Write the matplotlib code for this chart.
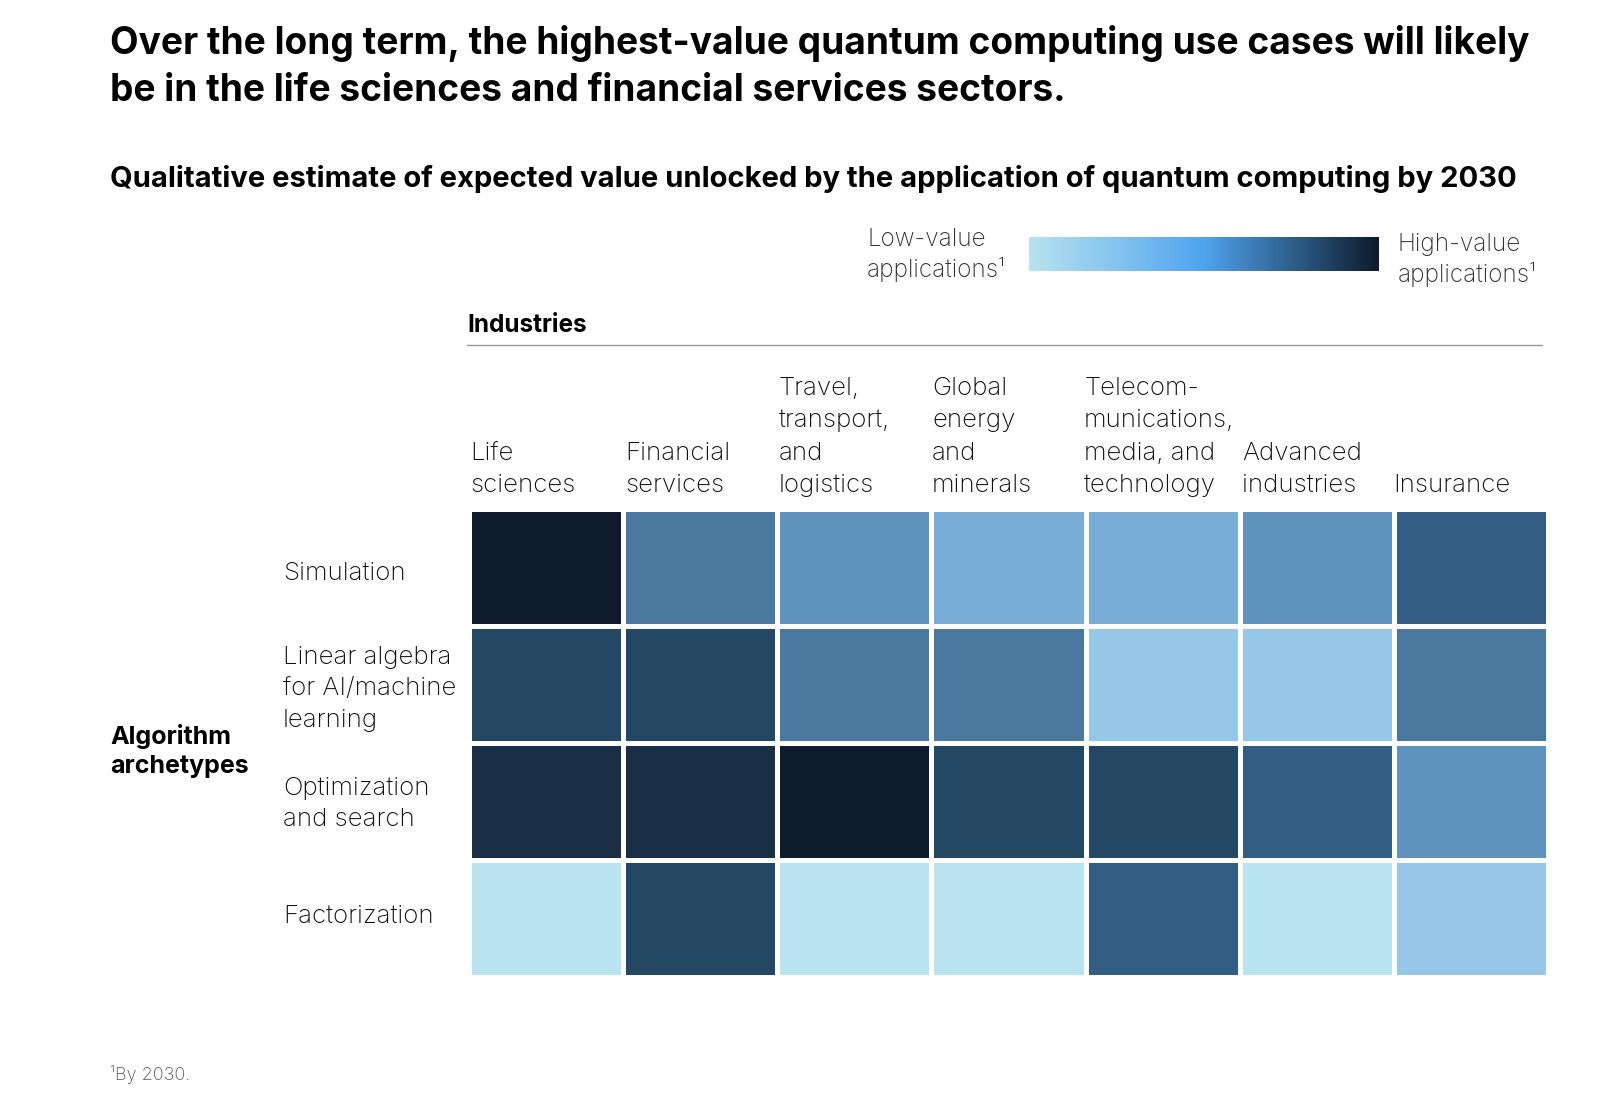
import numpy as np
import matplotlib
matplotlib.use("Agg")
import matplotlib.pyplot as plt
from matplotlib.colors import ListedColormap, LinearSegmentedColormap

plt.rcParams['font.family'] = ['Inter', 'DejaVu Sans']

# data: value level 0 (low) .. 8 (high)
industries = ["Life\nsciences", "Financial\nservices", "Travel,\ntransport,\nand\nlogistics",
              "Global\nenergy\nand\nminerals", "Telecom-\nmunications,\nmedia, and\ntechnology",
              "Advanced\nindustries", "Insurance"]
archetypes = ["Simulation", "Linear algebra\nfor AI/machine\nlearning", "Optimization\nand search",
              "Factorization"]
values = np.array([
    [8, 4, 3, 2, 2, 3, 5],
    [6, 6, 4, 4, 1, 1, 4],
    [7, 7, 8, 6, 6, 5, 3],
    [0, 6, 0, 0, 5, 0, 1],
])
level_colors = ["#B8E3EF", "#96C7E6", "#79ADD5", "#5F92BD", "#4A789F",
                "#335D82", "#244764", "#1A2E46", "#0D1B2B"]
legend_colors = ["#B8E3EF", "#50A3EE", "#0D1B2B"]

W, H = 1600, 1098
fig = plt.figure(figsize=(W / 100, H / 100), dpi=100)


def fx(x):
    return x / W


def fy(y):
    return 1 - y / H


def rect(x0, y0, x1, y1):
    return [fx(x0), fy(y1), fx(x1) - fx(x0), fy(y0) - fy(y1)]


txt = "#111111"

# titles
fig.text(fx(110), fy(44), "Over the long term, the highest-value quantum computing use cases will likely",
         fontsize=26.7, fontweight='bold', color='black', va='center', ha='left')
fig.text(fx(110), fy(91), "be in the life sciences and financial services sectors.",
         fontsize=26.7, fontweight='bold', color='black', va='center', ha='left')
fig.text(fx(110), fy(179), "Qualitative estimate of expected value unlocked by the application of quantum computing by 2030",
         fontsize=21, fontweight='bold', color='black', va='center', ha='left')

# legend gradient
lax = fig.add_axes(rect(1029, 237, 1379, 271))
cmap_leg = LinearSegmentedColormap.from_list("leg", legend_colors)
lax.imshow(np.linspace(0, 1, 256)[None, :], aspect='auto', cmap=cmap_leg)
lax.set_axis_off()
fig.text(fx(867), fy(255), "Low-value\napplications\u00b9", fontsize=17.5, fontweight='light', color='#333333',
         va='center', ha='left', linespacing=1.3)
fig.text(fx(1398), fy(260), "High-value\napplications\u00b9", fontsize=17.5, fontweight='light', color='#333333',
         va='center', ha='left', linespacing=1.3)

# industries header
fig.text(fx(467), fy(325), "Industries", fontsize=17.5, fontweight='bold', color='black', va='center')
fig.add_artist(plt.Line2D([fx(467), fx(1542)], [fy(345), fy(345)], color='#999999', lw=1))

# heatmap
ax = fig.add_axes(rect(469, 509, 1548, 977))
cmap = ListedColormap(level_colors)
ax.pcolormesh(values, cmap=cmap, vmin=-0.5, vmax=8.5, edgecolors='white', linewidth=2.2)
ax.set_xlim(0, values.shape[1])
ax.set_ylim(values.shape[0], 0)
ax.set_axis_off()

col_x = [470, 625, 779, 932, 1084, 1242, 1393]
for x, lab in zip(col_x, industries):
    fig.text(fx(x), fy(497), lab, fontsize=18.6, fontweight='light', color=txt, va='bottom', ha='left',
             linespacing=1.52)

row_y = [573, 689, 804, 916]
for y, lab in zip(row_y, archetypes):
    fig.text(fx(283), fy(y), lab, fontsize=18.6, fontweight='light', color=txt, va='center', ha='left',
             linespacing=1.47)

fig.text(fx(110), fy(751), "Algorithm\narchetypes", fontsize=18, fontweight='bold', color='black',
         va='center', ha='left', linespacing=1.38)

fig.text(fx(110), fy(1074), "\u00b9By 2030.", fontsize=13, fontweight='light', color='#555555',
         va='center', ha='left')

fig.savefig("out.png", dpi=100, facecolor='white')
